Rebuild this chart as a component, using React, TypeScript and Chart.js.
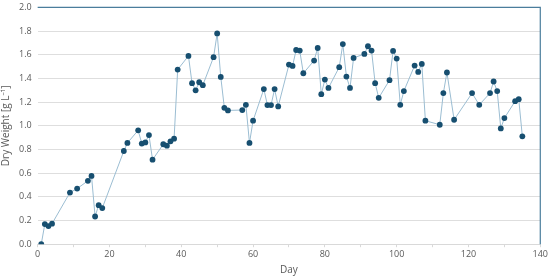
import React, { useEffect, useRef } from "react";
import { Chart, registerables } from "chart.js";

Chart.register(...registerables);

const days = [1, 2, 3, 4, 9, 11, 14, 15, 16, 17, 18, 24, 25, 28, 29, 30, 31, 32, 35, 36, 37, 38, 39, 42, 43, 44, 45, 46, 49, 50, 51, 52, 53, 57, 58, 59, 60, 63, 64, 65, 66, 67, 70, 71, 72, 73, 74, 77, 78, 79, 80, 81, 84, 85, 86, 87, 88, 91, 92, 93, 94, 95, 98, 99, 100, 101, 102, 105, 106, 107, 108, 112, 113, 114, 116, 121, 123, 126, 127, 128, 129, 130, 133, 134, 135];
const dryWeight = [0.0, 0.17, 0.153, 0.173, 0.436, 0.47, 0.535, 0.577, 0.234, 0.33, 0.305, 0.787, 0.855, 0.962, 0.85, 0.86, 0.922, 0.714, 0.844, 0.832, 0.869, 0.891, 1.475, 1.59, 1.36, 1.3, 1.368, 1.343, 1.58, 1.78, 1.413, 1.152, 1.13, 1.133, 1.177, 0.855, 1.043, 1.31, 1.175, 1.175, 1.31, 1.164, 1.517, 1.506, 1.64, 1.635, 1.444, 1.551, 1.657, 1.267, 1.39, 1.32, 1.495, 1.69, 1.416, 1.32, 1.573, 1.607, 1.672, 1.635, 1.36, 1.236, 1.385, 1.632, 1.568, 1.177, 1.293, 1.509, 1.455, 1.523, 1.043, 1.009, 1.276, 1.45, 1.051, 1.276, 1.177, 1.276, 1.374, 1.293, 0.978, 1.065, 1.208, 1.225, 0.911];

const xTickLabels = ["0", "20", "40", "60", "80", "100", "120", "140"];

const FONT = "'Open Sans', 'Noto Sans', sans-serif";
const TEXT = "#595959";

const frame = {
  id: "frame",
  afterDatasetsDraw(chart: any) {
    const { ctx, chartArea } = chart;
    ctx.save();
    ctx.strokeStyle = "#4a7d9c";
    ctx.lineWidth = 1.2;
    ctx.beginPath();
    ctx.moveTo(chartArea.left, chartArea.top);
    ctx.lineTo(chartArea.right, chartArea.top);
    ctx.lineTo(chartArea.right, chartArea.bottom);
    ctx.stroke();
    ctx.restore();
  },
};

export default function App() {
  const ref = useRef<HTMLCanvasElement | null>(null);
  useEffect(() => {
    document.body.style.margin = "0";
    document.body.style.overflow = "hidden";
    const points = days.map((d, i) => ({ x: d, y: dryWeight[i] }));
    const chart = new Chart(ref.current!, {
      type: "scatter",
      data: {
        datasets: [
          {
            data: points,
            showLine: true,
            borderColor: "#9bbdd2",
            borderWidth: 1,
            backgroundColor: "#174f70",
            pointBackgroundColor: "#174f70",
            pointBorderWidth: 0,
            pointRadius: 2.9,
          },
        ],
      },
      options: {
        animation: false,
        responsive: false,
        maintainAspectRatio: false,
        layout: { padding: { top: 0, right: 9, left: 0, bottom: 0 } },
        plugins: { legend: { display: false }, tooltip: { enabled: false } },
        scales: {
          x: {
            type: "linear",
            min: 0,
            max: 140,
            ticks: {
              stepSize: 10,
              autoSkip: false,
              maxRotation: 0,
              color: TEXT,
              font: { family: FONT, size: 9 },
              padding: 2,
              callback: (v: any) => (Number(v) % 20 === 0 ? xTickLabels[Number(v) / 20] : ""),
            },
            grid: {
              drawOnChartArea: false,
              drawTicks: true,
              tickLength: 3,
              color: "#d9d9d9",
            },
            border: { color: "#d9d9d9", width: 1 },
            title: {
              display: true,
              text: "Day",
              color: TEXT,
              font: { family: FONT, size: 10 },
              padding: { top: 2, bottom: 2 },
            },
          },
          y: {
            min: 0,
            max: 2,
            ticks: {
              stepSize: 0.2,
              color: TEXT,
              font: { family: FONT, size: 9 },
              padding: 6,
              callback: (v: any) => Number(v).toFixed(1),
            },
            grid: { color: "#dedede", drawTicks: false, lineWidth: 1 },
            border: { display: false },
            title: {
              display: true,
              text: "Dry Weight [g L\u207B\u00B9]",
              color: TEXT,
              font: { family: FONT, size: 10 },
              padding: { top: 0, bottom: 1 },
            },
          },
        },
      },
      plugins: [frame],
    });
    return () => chart.destroy();
  }, []);
  return (
    <div style={{ width: 550, height: 278, overflow: "hidden" }}>
      <canvas ref={ref} width={550} height={282} style={{ display: "block", marginTop: -4 }} />
    </div>
  );
}
